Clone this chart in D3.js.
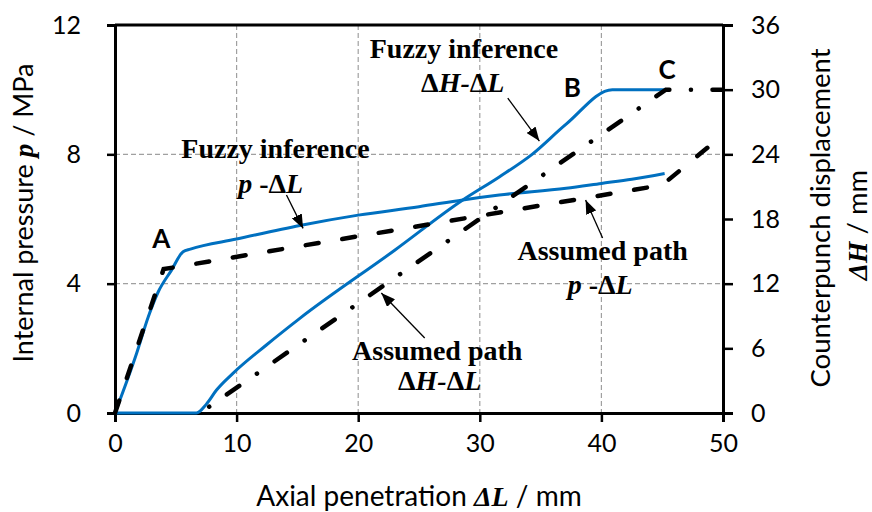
<!DOCTYPE html>
<html>
<head>
<meta charset="utf-8">
<script src="https://cdn.jsdelivr.net/npm/d3@7"></script>
<style>
  body { margin: 0; background: #fff; }
  svg { display: block; }
  .tick text { font-family: Lato, "Open Sans", sans-serif; font-size: 25px; fill: #000; }
  .ann { font-family: "Liberation Serif", "Times New Roman", serif; font-weight: bold; font-size: 28px; }
</style>
</head>
<body>
<div id="chart-area"></div>
<script>
// data
const fuzzyP = [[0, 0], [1.78, 1.85], [2.74, 2.98], [3.56, 3.75], [4.65, 4.42], [5.6, 4.99], [6.2, 5.07],
  [10, 5.38], [15.2, 5.8], [20, 6.12], [25, 6.38], [28.6, 6.59], [31.6, 6.74], [37.1, 6.95],
  [40, 7.1], [42.5, 7.23], [45.2, 7.41]];
const assumedP = [[0, 0], [4, 4.45], [45, 7.05], [50, 8.6]];
const fuzzyH = [[0, 0], [6.7, 0], [7.5, 0.8], [8.35, 2.13], [9.7, 3.68], [12.45, 6.31], [15.2, 8.78],
  [23, 15.1], [28.6, 19.76], [31.6, 21.9], [34.3, 24.0], [37.1, 26.8], [40.9, 30], [45.3, 30]];
const assumedH = [[7, 0], [45.3, 30], [50, 30]];

const xTicks = [0, 10, 20, 30, 40, 50];
const pTicks = [0, 4, 8, 12];
const hTicks = [0, 6, 12, 18, 24, 30, 36];

// annotation text: [x, p, text]
const labels = [
  { x: 28.7, p: 10.98, t: "Fuzzy inference" },
  { x: 13.2, p: 7.89, t: "Fuzzy inference" },
  { x: 40.1, p: 4.73, t: "Assumed path" },
  { x: 26.5, p: 1.64, t: "Assumed path" }
];
const subLabels = [
  { x: 28.6, p: 9.94, parts: [["Δ", "normal"], ["H", "italic"], ["-", "italic"], ["Δ", "normal"], ["L", "italic"]] },
  { x: 12.8, p: 6.8, parts: [["p", "italic"], [" -", "normal"], ["Δ", "normal"], ["L", "italic"]] },
  { x: 39.9, p: 3.68, parts: [["p", "italic"], [" -", "normal"], ["Δ", "normal"], ["L", "italic"]] },
  { x: 26.7, p: 0.71, parts: [["Δ", "normal"], ["H", "italic"], ["-", "italic"], ["Δ", "normal"], ["L", "italic"]] }
];
const points = [
  { x: 3.8, p: 5.1, t: "A" },
  { x: 37.6, p: 9.78, t: "B" },
  { x: 45.4, p: 10.32, t: "C" }
];
// arrows: tail -> head
const arrows = [
  [[32.3, 9.74], [34.9, 8.41]],
  [[14.1, 6.74], [15.47, 5.71]],
  [[40.1, 5.41], [38.7, 6.59]],
  [[25.47, 2.32], [21.9, 3.71]]
];

const W = 872, H = 512;
const margin = { top: 25, right: 149, bottom: 99, left: 115 };
const width = W - margin.left - margin.right;
const height = H - margin.top - margin.bottom;

const svg = d3.select("#chart-area").append("svg")
  .attr("width", W).attr("height", H);
const g = svg.append("g").attr("transform", `translate(${margin.left},${margin.top})`);

const x = d3.scaleLinear().domain([0, 50]).range([0, width]);
const yP = d3.scaleLinear().domain([0, 12]).range([height, 0]);
const yH = d3.scaleLinear().domain([0, 36]).range([height, 0]);

// grid
g.selectAll(".vgrid").data(xTicks.slice(1, -1)).enter().append("line")
  .attr("x1", d => x(d)).attr("x2", d => x(d)).attr("y1", 0).attr("y2", height)
  .attr("stroke", "#a0a0a0").attr("stroke-width", 1.2).attr("stroke-dasharray", "5,3");
g.selectAll(".hgrid").data(pTicks.slice(1, -1)).enter().append("line")
  .attr("y1", d => yP(d)).attr("y2", d => yP(d)).attr("x1", 0).attr("x2", width)
  .attr("stroke", "#a0a0a0").attr("stroke-width", 1.2).attr("stroke-dasharray", "5,3");

// axes
const styleAxis = sel => {
  sel.select(".domain").attr("stroke-width", 3);
  sel.selectAll(".tick line").attr("stroke-width", 2.5);
};
g.append("g").attr("transform", `translate(0,${height})`)
  .call(d3.axisBottom(x).tickValues(xTicks).tickSizeOuter(0).tickSize(9).tickPadding(12))
  .call(styleAxis);
g.append("g")
  .call(d3.axisLeft(yP).tickValues(pTicks).tickSizeOuter(0).tickSize(8).tickPadding(26))
  .call(styleAxis);
g.append("g").attr("transform", `translate(${width},0)`)
  .call(d3.axisRight(yH).tickValues(hTicks).tickSizeOuter(0).tickSize(10).tickPadding(18))
  .call(styleAxis);
g.append("line").attr("x1", 0).attr("x2", width).attr("y1", 0).attr("y2", 0)
  .attr("stroke", "#000").attr("stroke-width", 3);

// series
const lineP = d3.line().x(d => x(d[0])).y(d => yP(d[1])).curve(d3.curveMonotoneX);
const lineH = d3.line().x(d => x(d[0])).y(d => yH(d[1])).curve(d3.curveMonotoneX);
const straightP = d3.line().x(d => x(d[0])).y(d => yP(d[1]));
const straightH = d3.line().x(d => x(d[0])).y(d => yH(d[1]));

g.append("path").attr("d", lineP(fuzzyP)).attr("fill", "none")
  .attr("stroke", "#0070c0").attr("stroke-width", 3).attr("stroke-linejoin", "round");
g.append("path").attr("d", lineH(fuzzyH)).attr("fill", "none")
  .attr("stroke", "#0070c0").attr("stroke-width", 3).attr("stroke-linejoin", "round");
g.append("path").attr("d", straightP(assumedP)).attr("fill", "none")
  .attr("stroke", "#000").attr("stroke-width", 4.5).attr("stroke-linecap", "round")
  .attr("stroke-dasharray", "13,24");
g.append("path").attr("d", straightH(assumedH)).attr("fill", "none")
  .attr("stroke", "#000").attr("stroke-width", 4.5).attr("stroke-linecap", "round")
  .attr("stroke-dasharray", "0.1,21.5,15,21.5").attr("stroke-dashoffset", -11);

// arrows
svg.append("defs").append("marker").attr("id", "head")
  .attr("viewBox", "0 0 14 11").attr("refX", 14).attr("refY", 5.5)
  .attr("markerWidth", 14).attr("markerHeight", 11).attr("markerUnits", "userSpaceOnUse")
  .attr("orient", "auto")
  .append("path").attr("d", "M0,0L14,5.5L0,11Z").attr("fill", "#000");
g.selectAll(".arrow").data(arrows).enter().append("line")
  .attr("x1", d => x(d[0][0])).attr("y1", d => yP(d[0][1]))
  .attr("x2", d => x(d[1][0])).attr("y2", d => yP(d[1][1]))
  .attr("stroke", "#000").attr("stroke-width", 1.3).attr("marker-end", "url(#head)");

// annotations
g.selectAll(".lab").data(labels).enter().append("text").attr("class", "ann")
  .attr("x", d => x(d.x)).attr("y", d => yP(d.p)).attr("text-anchor", "middle").text(d => d.t);
const sub = g.selectAll(".sub").data(subLabels).enter().append("text").attr("class", "ann")
  .attr("x", d => x(d.x)).attr("y", d => yP(d.p)).attr("text-anchor", "middle");
sub.each(function (d) {
  d3.select(this).selectAll("tspan").data(d.parts).enter().append("tspan")
    .attr("font-style", p => p[1]).text(p => p[0]);
});
g.selectAll(".pt").data(points).enter().append("text")
  .attr("x", d => x(d.x)).attr("y", d => yP(d.p)).attr("text-anchor", "middle")
  .attr("font-family", "Lato, sans-serif").attr("font-weight", "bold").attr("font-size", 26)
  .text(d => d.t);

// axis titles
const title = (sel, parts) => {
  sel.selectAll("tspan").data(parts).enter().append("tspan")
    .attr("font-family", p => p[1] ? "'Liberation Serif', serif" : "Lato, sans-serif")
    .attr("font-style", p => p[1] ? "italic" : "normal")
    .attr("font-weight", p => p[1] ? "bold" : "normal")
    .text(p => p[0]);
};
svg.append("text").attr("x", 419).attr("y", 506).attr("text-anchor", "middle")
  .attr("font-size", 28)
  .call(title, [["Axial penetration ", false], ["ΔL", true], [" / mm", false]]);
svg.append("text").attr("transform", "translate(33,213) rotate(-90)").attr("text-anchor", "middle")
  .attr("font-size", 27)
  .call(title, [["Internal pressure ", false], ["p", true], [" / MPa", false]]);
svg.append("text").attr("transform", "translate(830,218) rotate(-90)").attr("text-anchor", "middle")
  .attr("font-size", 27.5)
  .call(title, [["Counterpunch displacement", false]]);
svg.append("text").attr("transform", "translate(867,225) rotate(-90)").attr("text-anchor", "middle")
  .attr("font-size", 27.5)
  .call(title, [["ΔH", true], [" / mm", false]]);
</script>
</body>
</html>
